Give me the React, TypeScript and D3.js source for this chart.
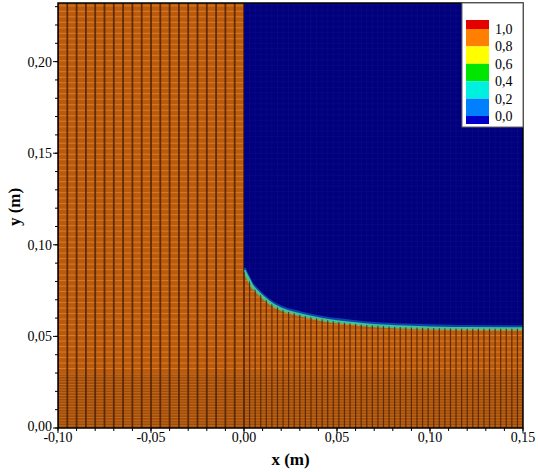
import React from "react";
import * as d3 from "d3";

// ---- data ----
const xDomain = [-0.1, 0.15];
const yDomain = [0, 0.232];
const xMajorTicks = [-0.1, -0.05, 0.0, 0.05, 0.1, 0.15];
const xTickLabels = ["-0,10", "-0,05", "0,00", "0,05", "0,10", "0,15"];
const yMajorTicks = [0.0, 0.05, 0.1, 0.15, 0.2];
const yTickLabels = ["0,00", "0,05", "0,10", "0,15", "0,20"];
// water column (volume fraction = 1) left of the gate
const columnX = [-0.1, 0.0];
// free-surface height downstream of x = 0
const surfaceX = [0.0, 0.002, 0.004, 0.007, 0.01, 0.015, 0.02, 0.03, 0.04, 0.05, 0.06, 0.07, 0.08, 0.09, 0.1, 0.12, 0.15];
const surfaceY = [0.086, 0.082, 0.078, 0.0745, 0.0715, 0.0675, 0.0648, 0.0618, 0.0596, 0.058, 0.0568, 0.0559, 0.0553, 0.0549, 0.0546, 0.0542, 0.0541];
// legend levels
const legendLevels = ["1,0", "0,8", "0,6", "0,4", "0,2", "0,0"];
const legendColors = ["#e40000", "#ff8000", "#ffff00", "#00e600", "#00f0e0", "#0080ff", "#0000c8"];
// mesh spacing (m)
const meshDxLeft = 0.005;
const meshDxRight = 0.003;
const meshDy = 0.003;
const meshDyBottom = 0.0015;
const bottomLayerTop = 0.03;

const W = 538, H = 472;
const L = 58, R = 523, T = 3, B = 428;

export default function App() {
  const x = d3.scaleLinear().domain(xDomain).range([L, R]);
  const y = d3.scaleLinear().domain(yDomain).range([B, T]);
  const pts = surfaceX.map((v, i) => [v, surfaceY[i]] as [number, number]);
  const area = d3
    .area<[number, number]>()
    .x((d) => x(d[0]))
    .y0(y(0))
    .y1((d) => y(d[1]))
    .curve(d3.curveMonotoneX);
  const line = d3
    .line<[number, number]>()
    .x((d) => x(d[0]))
    .y((d) => y(d[1]))
    .curve(d3.curveMonotoneX);
  const areaPath = area(pts) || "";
  const linePath = line(pts) || "";
  const colRect = { x: x(columnX[0]), y: y(yDomain[1]), w: x(columnX[1]) - x(columnX[0]), h: y(0) - y(yDomain[1]) };

  const vLeft = d3.range(xDomain[0], 0 + 1e-9, meshDxLeft);
  const vRight = d3.range(0, xDomain[1] + 1e-9, meshDxRight);
  const hUpper = d3.range(bottomLayerTop, yDomain[1], meshDy);
  const hLower = d3.range(0, bottomLayerTop, meshDyBottom);
  const xMinor = x.ticks(25);
  const yMinor = d3.range(0, 0.2301, 0.01);

  const serif = "Liberation Serif";

  // legend geometry
  const lgX = 462, lgY = 3, lgW = 61, lgH = 124;
  const swX = 466, swW = 23;
  const levelY = (i: number) => 29 + i * 17.4;

  return (
    <svg width={W} height={H} style={{ position: "absolute", left: 0, top: 0, background: "#fff" }}>
      <defs>
        <clipPath id="plot">
          <rect x={L} y={T} width={R - L} height={B - T} />
        </clipPath>
        <clipPath id="water">
          <rect x={colRect.x} y={colRect.y} width={colRect.w} height={colRect.h} />
          <path d={areaPath} />
        </clipPath>
      </defs>
      <g clipPath="url(#plot)">
        {/* empty (air) region */}
        <rect x={L} y={T} width={R - L} height={B - T} fill="#00007c" />
        <g stroke="#1c1c9a" strokeWidth={0.8} opacity={0.35}>
          {vLeft.concat(vRight).map((v, i) => (
            <line key={"bv" + i} x1={x(v)} x2={x(v)} y1={T} y2={B} />
          ))}
          {hUpper.map((v, i) => (
            <line key={"bh" + i} x1={L} x2={R} y1={y(v)} y2={y(v)} />
          ))}
        </g>
        {/* water region */}
        <rect x={colRect.x} y={colRect.y} width={colRect.w} height={colRect.h} fill="#bb5b0c" />
        <path d={areaPath} fill="#bb5b0c" />
        {/* interface cells */}
        <path d={linePath} fill="none" stroke="#1060c8" strokeWidth={3} transform="translate(0,-2.2)" opacity={0.7} />
        <path d={linePath} fill="none" stroke="#40c490" strokeWidth={3.2} />
        <g clipPath="url(#water)">
          <rect x={L} y={y(bottomLayerTop)} width={R - L} height={B - y(bottomLayerTop)} fill="#7a3606" opacity={0.35} />
          <g stroke="#e89848" strokeWidth={1} opacity={0.6}>
            {hUpper.map((v, i) => (
              <line key={"h" + i} x1={L} x2={R} y1={y(v) + 1} y2={y(v) + 1} />
            ))}
            {hLower.map((v, i) => (
              <line key={"hl" + i} x1={L} x2={R} y1={y(v) + 0.5} y2={y(v) + 0.5} strokeWidth={0.7} />
            ))}
          </g>
          <g stroke="#4a2004" strokeWidth={1.8} opacity={0.8}>
            {vLeft.map((v, i) => (
              <line key={"v" + i} x1={x(v)} x2={x(v)} y1={T} y2={B} />
            ))}
            {vRight.map((v, i) => (
              <line key={"vr" + i} x1={x(v)} x2={x(v)} y1={T} y2={B} strokeWidth={1.2} />
            ))}
          </g>
        </g>
      </g>
      {/* frame */}
      <rect x={L} y={T} width={R - L} height={B - T} fill="none" stroke="#000" strokeWidth={1.5} />
      {/* legend */}
      <rect x={lgX} y={lgY} width={lgW} height={lgH} fill="#fff" stroke="#666" strokeWidth={1} />
      {legendColors.map((c, i) => {
        const top = i === 0 ? levelY(0) - 9 : levelY(i - 1);
        const bot = i === legendColors.length - 1 ? levelY(legendLevels.length - 1) + 8 : levelY(i);
        return <rect key={"lc" + i} x={swX} y={top} width={swW} height={bot - top} fill={c} />;
      })}
      {legendLevels.map((t, i) => (
        <text key={"ll" + i} x={495} y={levelY(i)} dy="0.35em" fontFamily={serif} fontSize={14} fill="#000">
          {t}
        </text>
      ))}
      {/* axes ticks */}
      <g stroke="#000" strokeWidth={1}>
        {xMinor.map((v, i) => (
          <line key={"xm" + i} x1={x(v)} x2={x(v)} y1={B} y2={B + 3} />
        ))}
        {xMajorTicks.map((v, i) => (
          <line key={"xM" + i} x1={x(v)} x2={x(v)} y1={B} y2={B + 5} />
        ))}
        {yMinor.map((v, i) => (
          <line key={"ym" + i} x1={L} x2={L - 3} y1={y(v)} y2={y(v)} />
        ))}
        {yMajorTicks.map((v, i) => (
          <line key={"yM" + i} x1={L} x2={L - 5} y1={y(v)} y2={y(v)} />
        ))}
      </g>
      {xMajorTicks.map((v, i) => (
        <text key={"xl" + i} x={x(v)} y={442} textAnchor="middle" fontFamily={serif} fontSize={14} fill="#000">
          {xTickLabels[i]}
        </text>
      ))}
      {yMajorTicks.map((v, i) => (
        <text key={"yl" + i} x={L - 6} y={v === 0 ? y(v) - 2 : y(v)} dy="0.35em" textAnchor="end" fontFamily={serif} fontSize={14} fill="#000">
          {yTickLabels[i]}
        </text>
      ))}
      <text x={(L + R) / 2} y={465} textAnchor="middle" fontFamily={serif} fontSize={17} fontWeight="bold" fill="#000">
        x (m)
      </text>
      <text
        transform={`translate(20,${207}) rotate(-90)`}
        textAnchor="middle"
        fontFamily={serif}
        fontSize={17}
        fontWeight="bold"
        fill="#000"
      >
        y (m)
      </text>
    </svg>
  );
}
